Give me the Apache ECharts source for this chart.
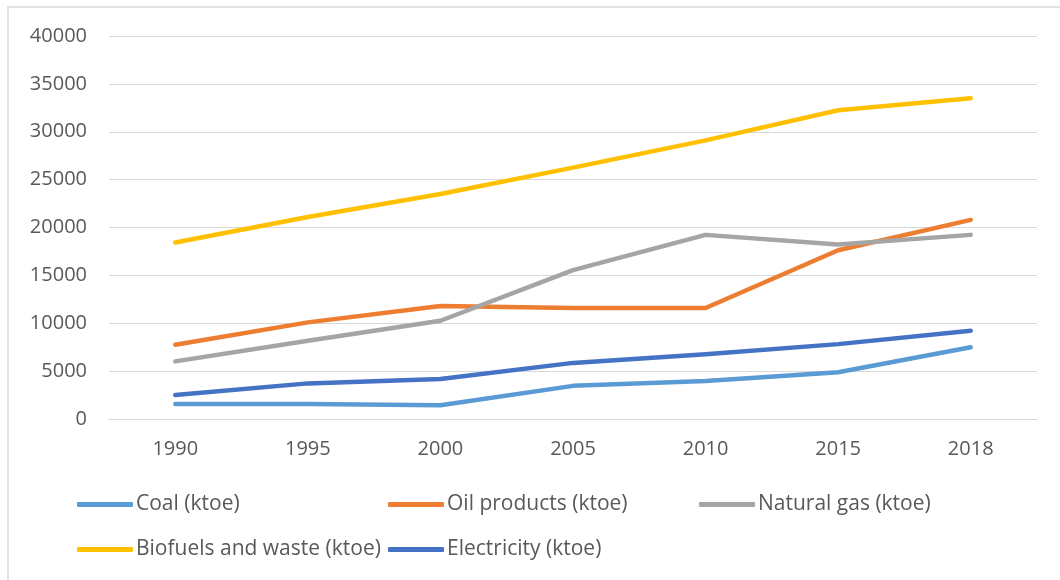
<!DOCTYPE html>
<html>
<head>
<meta charset="utf-8">
<script src="https://cdn.jsdelivr.net/npm/echarts@6/dist/echarts.min.js"></script>
<style>
html,body{margin:0;padding:0;background:#fff;}
#chart{width:1060px;height:580px;}
</style>
</head>
<body>
<div id="chart"></div>
<script>
const years = ['1990', '1995', '2000', '2005', '2010', '2015', '2018'];
const coal = [1570, 1570, 1430, 3460, 3980, 4890, 7500];
const oilProducts = [7760, 10090, 11800, 11600, 11590, 17620, 20800];
const naturalGas = [6020, 8170, 10260, 15550, 19230, 18220, 19230];
const biofuels = [18440, 21100, 23500, 26250, 29100, 32250, 33500];
const electricity = [2500, 3720, 4180, 5860, 6770, 7820, 9210];
const seriesNames = ['Coal (ktoe)', 'Oil products (ktoe)', 'Natural gas (ktoe)', 'Biofuels and waste (ktoe)', 'Electricity (ktoe)'];
const seriesColors = ['#5B9BD5', '#ED7D31', '#A5A5A5', '#FFC000', '#4472C4'];
const seriesData = [coal, oilProducts, naturalGas, biofuels, electricity];

const FONT = 'Open Sans';
const TXT = '#595959';
const legendPos = [[77, 494], [388, 494], [699, 494], [77, 539], [388, 539]];

const chart = echarts.init(document.getElementById('chart'), null, {renderer: 'canvas'});
chart.setOption({
  backgroundColor: '#fff',
  animation: false,
  textStyle: {fontFamily: FONT, color: TXT},
  graphic: [{
    type: 'rect', shape: {x: 8, y: 7, width: 1100, height: 700},
    style: {fill: 'none', stroke: '#d9d9d9', lineWidth: 1.5}, silent: true, z: -1
  }],
  grid: {left: 109, right: 23, top: 36, bottom: 161, containLabel: false},
  legend: seriesNames.map((n, i) => ({
    data: [n], left: legendPos[i][0], top: legendPos[i][1], orient: 'horizontal',
    icon: 'roundRect', itemWidth: 56, itemHeight: 5, itemGap: 0,
    textStyle: {fontFamily: FONT, fontSize: 21, color: TXT, padding: [0, 0, 0, -2]},
    padding: 0
  })),
  xAxis: {
    type: 'category', data: years, boundaryGap: true,
    axisLine: {show: true, lineStyle: {color: '#d9d9d9', width: 1}},
    axisTick: {show: false},
    axisLabel: {fontFamily: FONT, fontSize: 20, color: TXT, margin: 20}
  },
  yAxis: {
    type: 'value', min: 0, max: 40000, interval: 5000,
    axisLine: {show: false}, axisTick: {show: false},
    splitLine: {lineStyle: {color: '#d9d9d9', width: 1.2}},
    axisLabel: {fontFamily: FONT, fontSize: 20, color: TXT, margin: 22, formatter: v => String(v)}
  },
  series: seriesNames.map((n, i) => ({
    name: n, type: 'line', data: seriesData[i], showSymbol: false, symbol: 'none',
    lineStyle: {color: seriesColors[i], width: 4.5, cap: 'round', join: 'round'},
    itemStyle: {color: seriesColors[i]}
  }))
});
</script>
</body>
</html>
